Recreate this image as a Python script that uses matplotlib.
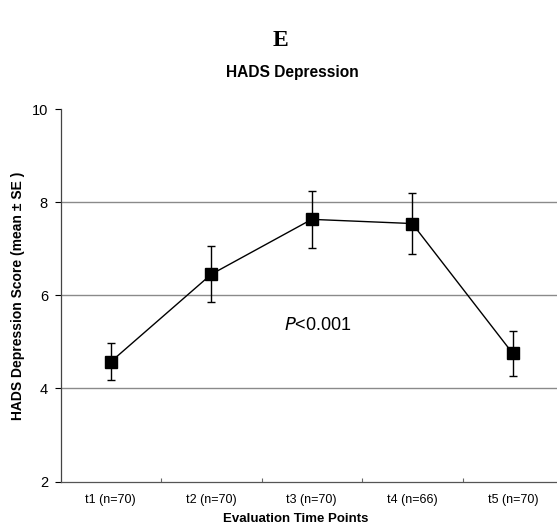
import matplotlib
matplotlib.use("Agg")
import matplotlib.pyplot as plt

# HADS depression scores at each evaluation time point
time_points = ["t1 (n=70)", "t2 (n=70)", "t3 (n=70)", "t4 (n=66)", "t5 (n=70)"]
mean_scores = [4.57, 6.45, 7.63, 7.54, 4.75]
se_scores = [0.40, 0.60, 0.61, 0.66, 0.48]
y_ticks = [2, 4, 6, 8, 10]

plt.rcParams["font.family"] = ["Liberation Sans", "DejaVu Sans"]

W, H = 557, 527
fig = plt.figure(figsize=(W / 100, H / 100), dpi=100)
ax = fig.add_axes([60.5 / W, 1 - 481.5 / H, 502.5 / W, (481.5 - 109) / H])

x = [i + 0.5 for i in range(len(time_points))]
ax.errorbar(x, mean_scores, yerr=se_scores, fmt="s-", color="black",
            markersize=8, linewidth=1.0, elinewidth=1.0, capsize=3,
            capthick=1.0, zorder=3)

ax.set_xlim(0, len(time_points))
ax.set_ylim(2, 10)
ax.set_yticks(y_ticks)
ax.set_yticklabels([str(v) for v in y_ticks], fontsize=10.5)
for v in y_ticks[1:-1]:
    ax.axhline(v, color="#8a8a8a", linewidth=1.0, zorder=1)

ax.set_xticks(range(1, len(time_points)))
ax.set_xticklabels([])
ax.tick_params(axis="x", direction="in", length=3, width=0.8, color="#666666")
ax.tick_params(axis="y", direction="out", length=4, width=0.8, pad=5)
for i, lab in enumerate(time_points):
    ax.text(i + 0.5, -0.033, lab, transform=ax.get_xaxis_transform(),
            ha="center", va="top", fontsize=9)

ax.spines["top"].set_visible(False)
ax.spines["right"].set_visible(False)
ax.spines["left"].set_color("#444444")
ax.spines["left"].set_linewidth(0.9)
ax.spines["bottom"].set_color("#555555")
ax.spines["bottom"].set_linewidth(0.9)

fig.text(296 / W, 1 - 519 / H, "Evaluation Time Points", ha="center",
         va="center", fontsize=9.5, fontweight="bold")
fig.text(18 / W, 1 - 296 / H, "HADS Depression Score (mean \u00b1 SE )",
         ha="center", va="center", rotation=90, fontsize=10,
         fontweight="bold")
fig.text(292 / W, 1 - 72 / H, "HADS Depression", ha="center", va="center",
         fontsize=11.2, fontweight="bold")
fig.text(280 / W, 1 - 40 / H, "E", ha="center", va="center", fontsize=17,
         fontweight="bold", family="Liberation Serif")

ax.text(2.555, 5.35, r"$\mathit{P}$<0.001", ha="center", va="center",
        fontsize=13)

fig.savefig("out.png", dpi=100)
